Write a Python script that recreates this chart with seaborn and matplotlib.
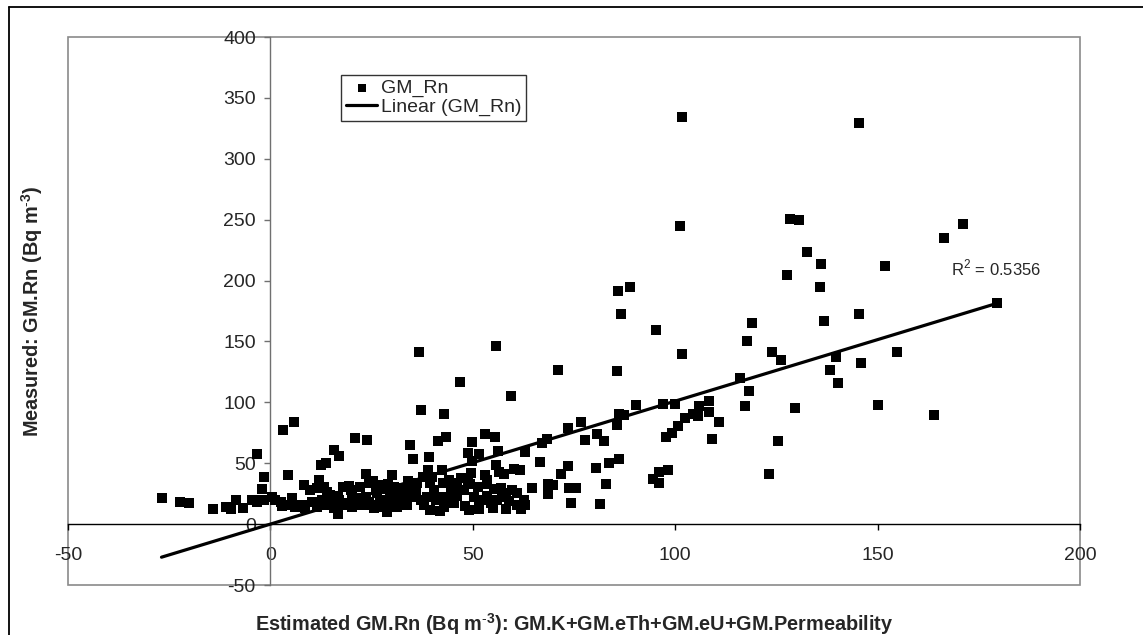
import numpy as np
import pandas as pd
import matplotlib
matplotlib.use("Agg")
import matplotlib.pyplot as plt
from matplotlib.patches import Rectangle
from matplotlib.lines import Line2D
import seaborn as sns

# Estimated (x) and measured (y) GM.Rn values
x_est = [
    101.7, 145.5, 101.1, 128.4, 130.6, 171.1, 166.5, 132.6, 136.0, 151.8,
    127.5, 135.7, 85.8, 88.8, 86.7, 145.5, 95.2, 119.0, 136.8, 179.5,
    117.7, 101.8, 123.9, 126.1, 139.7, 138.3, 140.3, 71.0, 85.6, 116.0,
    118.2, 117.3, 129.6, 108.3, 105.9, 108.4, 105.6, 104.4, 110.7, 109.1,
    125.4, 123.2, 102.3, 100.7, 99.3, 97.8, 100.0, 96.9, 90.2, 86.0,
    87.3, 85.7, 76.7, 73.5, 68.3, 67.2, 77.7, 80.7, 82.5, 66.7,
    86.0, 83.6, 80.4, 73.5, 71.8, 68.7, 69.8, 68.7, 73.7, 75.5,
    83.0, 74.3, 81.3, 98.2, 96.1, 94.4, 96.1, 154.7, 145.9, 150.1,
    164.0,
    36.8, 55.8, 46.9, 59.5, 37.1, 43.0, 34.5, 41.4, 43.5, 53.1,
    55.4, 35.3, 39.2, 49.7, 48.7, 51.6, 56.3, 62.8, 64.6, 49.6,
    30.1, 42.5, 55.8, 56.4, 57.6, 60.1, 61.6, 52.9, 53.4, 48.8,
    46.1, 39.0, 51.6, 49.1, 51.5, 41.8, 39.4, 58.1, 61.8, 62.7,
    49.8, 37.7, 42.6, 45.8, 49.2, 53.5, 51.3, 55.2, 57.2, 58.3,
    59.7, 60.9, 62.6, 63.0, 60.8, 54.6, 47.8, 50.2, 53.5, 56.0,
    45.3, 46.1, 44.5, 42.8, 44.0, 30.5, 32.1, 34.6, 36.2, 32.9,
    35.4, 31.3, 33.8, 37.1, 38.7, 37.9, 40.3, 39.5,
    17.0, 22.0, 27.0, 30.0, 33.0, 36.0, 41.0, 43.0, 46.0, 48.0,
    52.0, 55.0, 57.0, 59.0, 26.0, 29.0, 34.0, 44.0, 47.0, 40.0,
    3.0, 5.9, -3.3, -1.7, -2.0, 4.3, 15.7, 16.9, 12.4, 13.8,
    20.8, 23.9, 8.2, 12.1, 13.3, 18.0, 19.3, 23.5, 25.4, 22.1,
    27.3, 28.8, 24.3, 9.7, 11.5, 14.8, 16.6, 20.2, 21.4, -4.5,
    -3.3, -1.7, 0.4, 1.2, 2.5, 2.9, 5.4, 4.5, 6.2, 7.8,
    8.6, 10.3, 11.5, 12.8, 13.6, 15.2, 15.6, 16.7, 18.1, 19.3,
    20.2, 21.8, 23.0, 24.3, 25.5, 26.8, 28.0, 28.8, 29.6, 31.3,
    23.5, 26.4, 14.0, 19.8, 31.3,
    -26.9, -22.3, -20.0, -14.2, -10.9, -9.8, -8.6, -6.7, -4.1,
]
y_meas = [
    333.9, 329.5, 245.2, 250.4, 249.6, 246.3, 234.6, 223.6, 213.2, 211.8,
    204.2, 194.6, 191.3, 194.3, 172.4, 172.4, 159.5, 165.3, 166.4, 181.5,
    150.0, 139.6, 141.0, 134.4, 136.9, 126.4, 115.5, 126.4, 125.9, 119.9,
    109.2, 97.1, 95.2, 101.5, 96.9, 92.2, 88.7, 90.3, 83.7, 69.5,
    68.1, 41.1, 86.8, 80.5, 75.0, 71.4, 98.3, 98.3, 97.4, 90.6,
    89.5, 81.5, 84.0, 79.1, 69.5, 66.2, 68.7, 73.9, 68.1, 51.2,
    53.6, 49.8, 46.0, 47.9, 41.3, 32.6, 32.0, 24.4, 29.8, 29.3,
    32.8, 17.5, 16.7, 44.6, 42.7, 37.2, 33.7, 141.0, 132.2, 97.7,
    89.2,
    141.0, 146.1, 116.6, 105.1, 93.3, 90.6, 64.9, 68.4, 71.4, 73.6,
    71.7, 53.6, 55.0, 67.3, 58.3, 57.5, 60.2, 59.4, 29.8, 41.6,
    40.2, 44.6, 48.7, 42.4, 41.3, 45.2, 44.3, 40.2, 36.1, 34.2,
    33.9, 44.3, 17.8, 11.7, 12.3, 10.4, 11.2, 12.3, 12.3, 17.8,
    51.7, 38.3, 33.9, 33.4, 32.6, 32.6, 30.6, 28.5, 25.2, 22.4,
    27.9, 25.2, 19.7, 15.6, 15.6, 17.0, 27.9, 22.4, 23.0, 19.7,
    17.0, 30.6, 27.9, 22.4, 19.7, 30.6, 27.9, 30.6, 33.4, 22.4,
    22.4, 14.2, 15.6, 19.7, 22.4, 15.6, 27.9, 33.4,
    20.0, 18.0, 20.0, 17.0, 25.0, 26.0, 20.0, 14.0, 23.0, 15.0,
    20.0, 13.0, 30.0, 19.0, 29.0, 33.0, 35.0, 36.0, 38.0, 39.0,
    77.2, 83.7, 57.5, 38.8, 28.5, 40.2, 60.5, 56.1, 48.7, 50.3,
    70.9, 69.2, 31.8, 35.9, 30.6, 30.1, 31.2, 40.8, 35.6, 30.1,
    32.0, 28.7, 33.4, 27.9, 29.3, 23.8, 23.0, 23.0, 21.1, 19.7,
    18.3, 19.7, 22.4, 19.7, 18.3, 14.8, 21.1, 15.6, 14.2, 15.6,
    12.9, 18.3, 14.2, 19.7, 15.6, 17.0, 12.9, 8.2, 15.6, 17.0,
    14.2, 15.6, 15.6, 18.3, 12.9, 15.6, 14.2, 10.1, 21.1, 19.7,
    22.4, 25.2, 26.5, 27.9, 29.3,
    21.5, 18.2, 17.0, 12.8, 13.7, 12.1, 19.4, 13.5, 19.7,
]
x_ticks = [-50, 0, 50, 100, 150, 200]
y_ticks = [-50, 0, 50, 100, 150, 200, 250, 300, 350, 400]
# linear trend as shown on the chart (Excel trendline)
trend_slope = 1.01
trend_intercept = 0.0
r2_label = "R$^2$ = 0.5356"

df = pd.DataFrame({"est": x_est, "meas": y_meas})

sns.set_style("white")
plt.rcParams["font.family"] = ["Liberation Sans", "DejaVu Sans"]
plt.rcParams["mathtext.fontset"] = "custom"
plt.rcParams["mathtext.rm"] = "Liberation Sans"
plt.rcParams["mathtext.bf"] = "Liberation Sans:bold"
plt.rcParams["axes.unicode_minus"] = False

W, H = 1143, 635
fig = plt.figure(figsize=(W / 100, H / 100), dpi=100)
ax = fig.add_axes([68 / W, 50 / H, 1012 / W, 548 / H])

# scatter of the samples
sns.scatterplot(data=df, x="est", y="meas", marker="s", s=48, color="black",
                linewidth=0, ax=ax, label="GM_Rn", zorder=3)

# linear trend line over the data range
xs = np.array([df["est"].min(), df["est"].max()])
ax.plot(xs, trend_slope * xs + trend_intercept, color="black", lw=2.3,
        label="Linear (GM_Rn)", zorder=4)

ax.set_xlim(-50, 200)
ax.set_ylim(-50, 400)
ax.set_xticks(x_ticks)
ax.set_yticks(y_ticks)

# axes cross at zero, gray frame around the plot area
ax.spines["left"].set_position(("data", 0))
ax.spines["bottom"].set_position(("data", 0))
ax.spines["top"].set_visible(False)
ax.spines["right"].set_visible(False)
ax.spines["left"].set_color("#707070")
ax.spines["bottom"].set_color("black")
ax.spines["left"].set_linewidth(1)
ax.spines["bottom"].set_linewidth(1)
ax.add_patch(Rectangle((0, 0), 1, 1, transform=ax.transAxes, fill=False,
                       edgecolor="#8a8a8a", lw=1.2, clip_on=False, zorder=0))

ax.tick_params(axis="y", direction="out", length=4.5, width=1, color="#707070",
               labelsize=14, pad=6, left=True)
ax.tick_params(axis="x", direction="out", length=4.5, width=1, color="black",
               labelsize=14, pad=12, bottom=True)

ax.set_xlabel("")
ax.set_ylabel("")
fig.text(574 / W, 1 - 624 / H,
         r"Estimated GM.Rn (Bq m$^{\text{-}\mathbf{3}}$): GM.K+GM.eTh+GM.eU+GM.Permeability",
         ha="center", va="center", fontsize=14.3, fontweight="bold")
fig.text(32 / W, 1 - 311 / H, r"Measured: GM.Rn (Bq m$^{\text{-}\mathbf{3}}$)",
         ha="center", va="center", rotation=90, fontsize=14.3, fontweight="bold")

ax.text(951 / W, 1 - 268 / H, r2_label, transform=fig.transFigure,
        ha="left", va="center", fontsize=12)

leg = ax.legend(loc="upper left", bbox_to_anchor=(0.27, 0.931), borderaxespad=0,
                fontsize=14, frameon=True, fancybox=False, edgecolor="black",
                borderpad=0.25, labelspacing=0.05, handlelength=1.6,
                handletextpad=0.2, markerscale=0.8)
leg.get_frame().set_linewidth(1)

# outer chart border
fig.add_artist(Line2D([9 / W, 9 / W], [0, 1 - 7 / H], transform=fig.transFigure,
                      color="black", lw=1.3))
fig.add_artist(Line2D([9 / W, 1], [1 - 7 / H, 1 - 7 / H], transform=fig.transFigure,
                      color="black", lw=1.3))

fig.savefig("out.png", dpi=100)
